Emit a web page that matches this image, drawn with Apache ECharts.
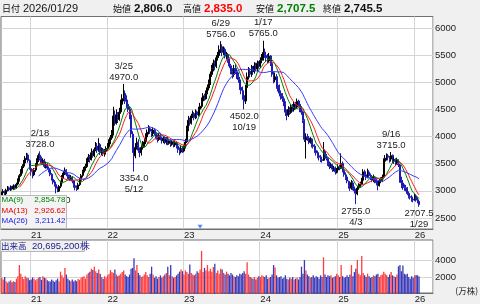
<!DOCTYPE html>
<html><head><meta charset="utf-8">
<script src="https://cdn.jsdelivr.net/npm/echarts@6/dist/echarts.min.js"></script>
<style>html,body{margin:0;padding:0;background:#f0f0f0}#c{width:480px;height:304px}</style>
</head><body><div id="c"></div>
<script>
// ---- data (weekly bars, first week starting 2020-08-17) ----
const firstWeek = '2020-08-17';
const openP = [
2920,2965,2985,2945,3005,3055,3015,3075,3035,3095,
3055,3125,3195,3285,3345,3455,3515,3605,3660,3555,
3410,3355,3295,3385,3475,3565,3655,3595,3515,3565,
3445,3485,3415,3385,3305,3215,3165,3115,3055,2995,
3085,3145,3255,3325,3385,3295,3265,3215,3255,3185,
3095,3065,3035,3115,3195,3285,3345,3405,3445,3565,
3625,3575,3705,3645,3765,3825,3745,3855,3695,3765,3675,3725,
3785,3815,3905,3975,4055,4385,4245,4405,4315,4455,4595,4705,
4795,4655,4595,4505,4395,4045,3755,3645,3805,3895,3745,3705,3795,
3845,3905,3995,4085,4145,4095,4055,4115,4075,4005,3945,4025,3975,3925,
3965,3895,3955,3875,3925,3855,3905,3845,3885,3825,3765,3715,3785,3735,3805,
3905,4145,4305,4245,4385,4425,4345,4455,4395,4505,4555,4655,4755,4695,4805,
4895,4985,5145,5255,5345,5295,5455,5495,5605,5655,
5545,5605,5475,5505,5395,5305,5195,5145,5255,5195,5105,5045,4905,4845,4755,
4655,4905,5095,5205,5145,5255,5195,5305,5245,5355,5295,5405,
5445,5555,5495,5455,5395,5485,5345,5155,5045,5105,4945,4905,4795,
4755,4695,4605,4455,4395,4505,4445,4555,4495,4605,4545,4655,4595,4505,4455,
4290,3940,3995,3975,3895,3955,3845,3825,3745,3705,3645,3625,3575,3565,3725,3645,
3595,3495,3455,3485,3395,3425,3345,3385,3445,3415,3505,3375,3295,3255,
3175,3095,3055,3145,3055,2995,2945,3055,3095,3125,3195,3355,3295,3255,3345,
3285,3245,3205,3245,3185,3145,3095,3185,3195,3255,3545,3605,3645,3615,
3585,3655,3545,3585,3515,3565,3475,3205,3145,3085,3055,
3045,2955,2895,2885,2845,2835,2900,2835,2806];
const highP = [
2990,3030,3010,3040,3090,3080,3100,3090,3120,3110,
3150,3230,3310,3400,3490,3570,3640,3700,3690,3580,
3450,3400,3420,3510,3600,3690,3728,3630,3600,3590,
3540,3510,3450,3410,3330,3250,3200,3140,3080,3110,
3190,3290,3370,3430,3400,3330,3300,3290,3270,3200,
3130,3100,3150,3240,3310,3390,3440,3500,3600,3680,
3660,3780,3740,3800,3900,3880,3970,3880,3800,3790,3770,3820,
3880,3950,4030,4120,4550,4480,4500,4450,4530,4680,4780,4970,
4850,4760,4680,4560,4420,4100,3800,3880,3980,3950,3800,3840,3920,
3960,4060,4130,4210,4190,4140,4170,4150,4100,4040,4070,4050,4000,4010,
4000,3990,3990,3960,3950,3940,3930,3920,3910,3860,3800,3830,3820,3850,3960,
4200,4380,4350,4420,4480,4450,4500,4480,4550,4620,4720,4800,4790,4850,4960,
5050,5200,5320,5420,5400,5500,5560,5680,5756,5700,
5660,5640,5560,5540,5440,5340,5260,5320,5340,5260,5180,5100,4980,4920,4800,
4950,5180,5280,5260,5320,5300,5370,5360,5400,5390,5460,5520,
5765,5620,5560,5520,5540,5500,5380,5200,5180,5150,5000,4960,4850,
4800,4740,4650,4500,4560,4540,4600,4600,4650,4640,4700,4680,4620,4560,4480,
4320,4060,4050,4010,3990,3970,3900,3860,3800,3740,3700,3660,3620,3900,3760,3680,
3620,3540,3520,3500,3460,3450,3420,3490,3480,3690,3540,3400,3340,3290,
3190,3140,3200,3180,3080,3040,3090,3140,3170,3240,3400,3390,3330,3410,3380,
3320,3290,3300,3270,3230,3190,3220,3250,3300,3600,3660,3690,3680,3640,
3715,3670,3620,3600,3610,3580,3500,3260,3200,3120,3110,
3070,2990,2940,2920,2890,2950,2930,2880,2835];
const lowP = [
2890,2940,2910,2920,2990,3000,3000,3020,3020,3030,
3040,3100,3170,3260,3320,3420,3490,3570,3520,3390,
3280,3230,3270,3350,3440,3530,3560,3480,3480,3420,
3410,3390,3340,3270,3190,3120,3080,2953,2975,2980,
3050,3120,3220,3290,3270,3220,3180,3190,3140,3060,
3010,3000,3020,3090,3170,3250,3320,3370,3420,3530,
3520,3560,3610,3620,3730,3700,3720,3660,3660,3640,3630,3690,
3740,3780,3860,3940,4020,4200,4220,4250,4290,4420,4560,4650,
4600,4520,4450,4320,3980,3700,3354,3600,3760,3700,3620,3650,3760,
3800,3860,3950,4040,4050,3990,4010,4020,3950,3890,3920,3930,3870,3880,
3860,3850,3840,3850,3810,3830,3800,3810,3780,3700,3656,3690,3700,3710,3780,
3880,4100,4200,4220,4340,4300,4320,4360,4370,4470,4520,4620,4660,4680,4780,
4850,4950,5100,5200,5220,5260,5400,5450,5540,5480,
5500,5440,5420,5360,5260,5150,5070,5100,5150,5060,4990,4860,4780,4680,4502,
4600,4850,5050,5100,5100,5140,5160,5200,5200,5250,5260,5350,
5400,5450,5380,5350,5360,5300,5100,4980,5000,4880,4830,4740,4680,
4640,4560,4380,4300,4360,4400,4420,4460,4460,4500,4520,4560,4450,4400,4250,
3900,3595,3920,3860,3870,3800,3780,3700,3650,3600,3560,3530,3520,3550,3600,3560,
3460,3400,3420,3350,3360,3300,3320,3340,3380,3400,3340,3260,3200,3140,
3040,3000,3020,3010,2950,2755,2920,3020,3060,3100,3180,3260,3200,3230,3230,
3200,3160,3160,3140,3100,3010,3080,3140,3160,3240,3500,3560,3560,3520,
3540,3510,3500,3470,3480,3440,3150,3050,3020,3000,2990,
2920,2860,2840,2800,2790,2820,2800,2770,2707.5];
const closeP = [
2960,2990,2940,3010,3050,3020,3070,3040,3090,3060,
3120,3200,3280,3350,3450,3520,3600,3650,3560,3420,
3350,3300,3380,3480,3560,3650,3600,3520,3560,3450,
3480,3420,3380,3300,3220,3160,3120,3050,3000,3080,
3150,3250,3330,3380,3300,3260,3220,3250,3180,3100,
3060,3040,3110,3200,3280,3350,3400,3450,3560,3620,
3580,3700,3650,3760,3820,3750,3850,3700,3760,3680,3720,3780,
3820,3900,3980,4050,4380,4250,4400,4320,4450,4600,4700,4800,
4650,4600,4500,4400,4050,3750,3650,3800,3900,3750,3700,3800,3850,
3900,4000,4080,4150,4100,4050,4120,4080,4000,3950,4020,3980,3920,3960,
3900,3950,3880,3920,3860,3900,3850,3880,3820,3760,3720,3780,3740,3800,3900,
4150,4300,4250,4380,4420,4350,4450,4400,4500,4560,4650,4750,4700,4800,4900,
4980,5150,5250,5350,5300,5450,5500,5600,5650,5550,
5600,5480,5500,5400,5300,5200,5150,5250,5200,5100,5050,4900,4850,4750,4650,
4900,5100,5200,5150,5250,5200,5300,5250,5350,5300,5400,5450,
5550,5500,5450,5400,5480,5350,5150,5050,5100,4950,4900,4800,4750,
4700,4600,4450,4400,4500,4450,4550,4500,4600,4550,4650,4600,4500,4450,4300,
3950,3990,3980,3900,3950,3850,3820,3750,3700,3650,3620,3580,3560,3720,3650,3600,
3500,3450,3480,3400,3420,3350,3380,3450,3420,3500,3380,3300,3250,3180,
3100,3050,3150,3050,3000,2950,3050,3100,3120,3200,3350,3300,3250,3350,3280,
3250,3200,3250,3180,3150,3100,3180,3200,3250,3550,3600,3650,3620,3580,
3650,3550,3580,3520,3560,3480,3200,3150,3080,3060,3050,
2950,2900,2880,2850,2830,2905,2830,2805,2745.5];
// volume in 万株
const volume = [
1900,1700,2000,1500,1300,1450,1600,1350,1500,1400,1800,2100,3450,2400,2000,1750,2100,1900,1850,1600,
1700,1950,1800,1600,1750,1900,2000,1650,2100,1900,1850,1600,1500,1450,1700,1550,1400,1600,1800,1500,
2650,2200,1900,3100,2300,1800,1600,1500,1700,1450,1600,1500,1750,1650,1900,2000,2100,1800,2300,2500,
2650,3000,2850,3250,2700,2500,2900,2400,2000,1800,2100,1900,2200,2400,2850,2600,2500,2900,2300,2100,
2200,2400,2600,2800,2300,2100,2000,2300,3000,3100,4260,2800,3450,2500,2200,2000,2100,2300,2600,2200,
2000,2400,3250,2300,1900,2100,1800,2000,2200,1900,2100,2300,2500,3250,2200,3450,2100,1900,2000,2200,
2400,2650,2900,2700,2300,2800,2600,2400,3520,2500,2300,2200,2400,2700,2500,2900,5150,2600,3100,2800,
3450,2700,3000,2650,3200,3600,2500,2800,2400,3000,2900,2500,2300,2650,2400,2200,2500,2300,2100,2000,
2200,2100,2400,2300,2500,2700,2400,3800,2300,2000,1900,1800,2000,1700,1900,2100,2000,2200,2100,2000,
2200,1800,1900,2000,2300,3450,3150,2200,1900,2000,2100,1800,1900,2220,1800,1700,1900,1800,2000,1700,
1800,1900,1700,2000,3250,2400,4050,2800,2300,2100,1900,2000,2200,1900,2100,2000,1800,2200,2000,4380,
2300,2000,2200,2100,2200,1900,2000,2100,2400,2200,2000,3450,2100,1900,2000,2200,2000,2300,3450,2100,
2600,3000,4060,2400,2200,4560,2500,2200,2000,2400,2100,1900,2000,2200,2100,2300,2400,2000,2200,2300,
2650,2400,2200,2000,2300,2600,2200,2100,2000,2300,3300,3450,2700,3400,2400,2300,2400,2000,1800,2100,1900,2200,2250,2200,2069.52];
const emptySlots = 9;
const yearTickIdx = [20, 72, 124, 176, 229, 281];
const yearTickLabels = ['21', '22', '23', '24', '25', '26'];
const extremes = [
  {i: 26, v: 3728, date: '2/18', kind: 'high'},
  {i: 37, v: 2953, date: '5/13', kind: 'low'},
  {i: 83, v: 4970, date: '3/25', kind: 'high'},
  {i: 90, v: 3354, date: '5/12', kind: 'low'},
  {i: 149, v: 5756, date: '6/29', kind: 'high'},
  {i: 165, v: 4502, date: '10/19', kind: 'low'},
  {i: 178, v: 5765, date: '1/17', kind: 'high'},
  {i: 241, v: 2755, date: '4/3', kind: 'low'},
  {i: 265, v: 3715, date: '9/16', kind: 'high'},
  {i: 284, v: 2707.5, date: '1/29', kind: 'low'}
];
const eventMark = {i: 135, v: 2340};
const headerDate = ['日付', '2026/01/29'];
const headerNames = ['始値', '高値', '安値', '終値'];
const headerValues = ['2,806.0', '2,835.0', '2,707.5', '2,745.5'];
const maPeriods = [9, 13, 26];
const maNames = ['MA(9)', 'MA(13)', 'MA(26)'];
const maValues = ['2,854.78', '2,926.62', '3,211.42'];
const volName = '出来高';
const volValueText = '20,695,200株';
const volUnit = '(万株)';

// ---- build ----
[openP, highP, lowP, closeP, volume].forEach((a, k) => { if (a.length !== 285) throw new Error('len ' + k + ' ' + a.length); });
const N = closeP.length;
const cats = [];
{
  const d0 = new Date(firstWeek + 'T00:00:00Z');
  for (let i = 0; i < N + emptySlots; i++) {
    const d = new Date(d0.getTime() + i * 7 * 86400000);
    cats.push(i < N ? d.toISOString().slice(0, 10) : 'pad' + i);
  }
}
const candles = closeP.map((c, i) => [openP[i], c, lowP[i], highP[i]]);
function ma(n) {
  return closeP.map((c, i) => {
    if (i < n - 1) return '-';
    let s = 0; for (let k = i - n + 1; k <= i; k++) s += closeP[k];
    return +(s / n).toFixed(2);
  });
}
const UP = '#000000', DOWN = '#1c1cb0';
const VUP = '#ff3c3c', VDOWN = '#3a3ab8';
const volData = volume.map((v, i) => ({value: v, itemStyle: {color: closeP[i] >= openP[i] ? VUP : VDOWN}}));
const yearSet = new Set(yearTickIdx);
const yearLabelOf = {}; yearTickIdx.forEach((ix, k) => yearLabelOf[cats[ix]] = yearTickLabels[k]);

const FONT = '"Liberation Sans", Arial, sans-serif';
const CJK = '"Noto Sans CJK JP", sans-serif';
const L = 1, R = 47;
// price scale geometry: grid1 spans 6000..2500 over 190px from y=28; frame grid0 spans y 16.5..229
const PMIN = 2500, PMAX = 6000, PTOP = 28, PH = 190, FTOP = 16.5, FH = 212.5;
const pxPer = PH / (PMAX - PMIN);
const frameMax = PMAX + (PTOP - FTOP) / pxPer;
const frameMin = PMIN - ((FTOP + FH) - (PTOP + PH)) / pxPer;

const markData = extremes.map(e => ({
  coord: [cats[e.i], e.v],
  symbol: 'rect', symbolSize: 1,
  itemStyle: {color: 'rgba(0,0,0,0)'},
  label: {
    show: true,
    position: e.kind === 'high' ? 'top' : 'bottom',
    distance: 1,
    formatter: e.kind === 'high' ? (e.date + '\n' + e.v.toFixed(1)) : (e.v.toFixed(1) + '\n' + e.date),
    fontFamily: FONT, fontSize: 9.5, lineHeight: 11, color: '#222'
  }
}));

const maColors = ['#008000', '#ff1a1a', '#3a3aff'];
const maLegendColors = ['#008000', '#e00000', '#2020e0'];

// header + boxes
const g = [];
g.push({type: 'text', x: 2, y: 8.5, style: {text: headerDate[0], font: '9px ' + CJK, fill: '#111', verticalAlign: 'middle'}, z: 50});
g.push({type: 'text', x: 23, y: 8.5, style: {text: headerDate[1], font: '11px ' + FONT, fill: '#111', verticalAlign: 'middle'}, z: 50});
const hx = [[113, 134], [183, 204], [256, 277], [323, 344]];
const hcol = ['#111', '#ff0000', '#008000', '#111'];
headerNames.forEach((n, k) => {
  g.push({type: 'text', x: hx[k][0], y: 8.5, style: {text: n, font: '9px ' + CJK, fill: '#111', verticalAlign: 'middle'}, z: 50});
  g.push({type: 'text', x: hx[k][1], y: 8.5, style: {text: headerValues[k], font: 'bold 11.5px ' + FONT, fill: hcol[k], verticalAlign: 'middle'}, z: 50});
});
// MA legend box
g.push({type: 'rect', shape: {x: 0.5, y: 195.5, width: 66, height: 33}, style: {fill: '#f3f3f3', stroke: '#b8b8b8', lineWidth: 1}, z: 60});
maNames.forEach((n, k) => {
  const y = 200 + k * 10.5;
  g.push({type: 'text', x: 1.5, y, style: {text: n, font: '8px ' + FONT, fill: maLegendColors[k], verticalAlign: 'middle'}, z: 61});
  g.push({type: 'text', x: 65.5, y, style: {text: maValues[k], font: '8px ' + FONT, fill: maLegendColors[k], align: 'right', verticalAlign: 'middle'}, z: 61});
});
// volume label
g.push({type: 'rect', shape: {x: 0.5, y: 240.5, width: 84, height: 11}, style: {fill: '#f0f0f0', stroke: '#b8b8b8', lineWidth: 1}, z: 60});
g.push({type: 'text', x: 1, y: 246, style: {text: volName, font: '8.5px ' + CJK, fill: '#202090', verticalAlign: 'middle'}, z: 61});
g.push({type: 'text', x: 32, y: 246, style: {text: volValueText, font: '9.5px ' + FONT, fill: '#202090', verticalAlign: 'middle'}, z: 61});
g.push({type: 'text', x: 478, y: 290.5, style: {text: volUnit, font: '8.5px ' + CJK, fill: '#222', align: 'right', verticalAlign: 'middle'}, z: 50});

const splitYears = {show: true, interval: (idx) => yearSet.has(idx), lineStyle: {color: '#d4d4d4', width: 1}};
const yearLabel = {
  show: true, interval: (idx) => yearSet.has(idx), formatter: (v) => yearLabelOf[v] || '',
  align: 'left', fontFamily: FONT, fontSize: 9.5, color: '#222', margin: 1
};

const chart = echarts.init(document.getElementById('c'), null, {renderer: 'canvas'});
chart.setOption({
  animation: false,
  backgroundColor: '#f0f0f0',
  textStyle: {fontFamily: FONT},
  grid: [
    {left: L, right: R, top: FTOP, height: FH, show: true, backgroundColor: '#ffffff', borderColor: '#707070', borderWidth: 1},
    {left: L, right: R, top: PTOP, height: PH},
    {left: L, right: R, top: 240, height: 54, show: true, backgroundColor: '#ffffff', borderColor: '#707070', borderWidth: 1},
    {left: L, right: R, top: 260.5, height: 33}
  ],
  xAxis: [
    {gridIndex: 0, type: 'category', data: cats, boundaryGap: true, axisLine: {show: true, lineStyle: {color: '#707070'}}, axisTick: {show: false}, splitLine: splitYears, axisLabel: yearLabel},
    {gridIndex: 1, type: 'category', data: cats, boundaryGap: true, show: false},
    {gridIndex: 2, type: 'category', data: cats, boundaryGap: true, axisLine: {show: true, lineStyle: {color: '#707070'}}, axisTick: {show: false}, splitLine: splitYears, axisLabel: yearLabel},
    {gridIndex: 3, type: 'category', data: cats, boundaryGap: true, show: false}
  ],
  yAxis: [
    {gridIndex: 0, type: 'value', show: false, min: frameMin, max: frameMax, splitLine: {show: false}},
    {gridIndex: 1, type: 'value', min: PMIN, max: PMAX, interval: 500, position: 'right',
      axisLine: {show: false}, axisTick: {show: false},
      splitLine: {show: true, lineStyle: {color: '#d4d4d4', width: 1}},
      axisLabel: {margin: 2, fontFamily: FONT, fontSize: 9.5, color: '#222', formatter: (v) => String(v)}},
    {gridIndex: 2, type: 'value', show: false, splitLine: {show: false}},
    {gridIndex: 3, type: 'value', min: 0, max: 4000, interval: 2000, position: 'right',
      axisLine: {show: false}, axisTick: {show: false},
      splitLine: {show: true, lineStyle: {color: '#d4d4d4', width: 1}},
      axisLabel: {margin: 2, fontFamily: FONT, fontSize: 9.5, color: '#222', formatter: (v) => v === 0 ? '' : String(v)}}
  ],
  series: [
    {type: 'candlestick', xAxisIndex: 1, yAxisIndex: 1, data: candles, barWidth: 1.5,
      itemStyle: {color: UP, color0: DOWN, borderColor: UP, borderColor0: DOWN, borderWidth: 1},
      markPoint: {data: markData, animation: false}},
    ...maPeriods.map((p, k) => ({type: 'line', xAxisIndex: 1, yAxisIndex: 1, data: ma(p), symbol: 'none', showSymbol: false,
      lineStyle: {width: 1, color: maColors[k]}, z: 3})),
    {type: 'scatter', xAxisIndex: 0, yAxisIndex: 0, data: [[cats[eventMark.i], eventMark.v]],
      symbol: 'triangle', symbolRotate: 180, symbolSize: [5, 4], itemStyle: {color: '#2a6af0'}, z: 5},
    {type: 'bar', xAxisIndex: 3, yAxisIndex: 3, data: volData, barWidth: 1.3, clip: false}
  ],
  graphic: g
});
</script></body></html>
